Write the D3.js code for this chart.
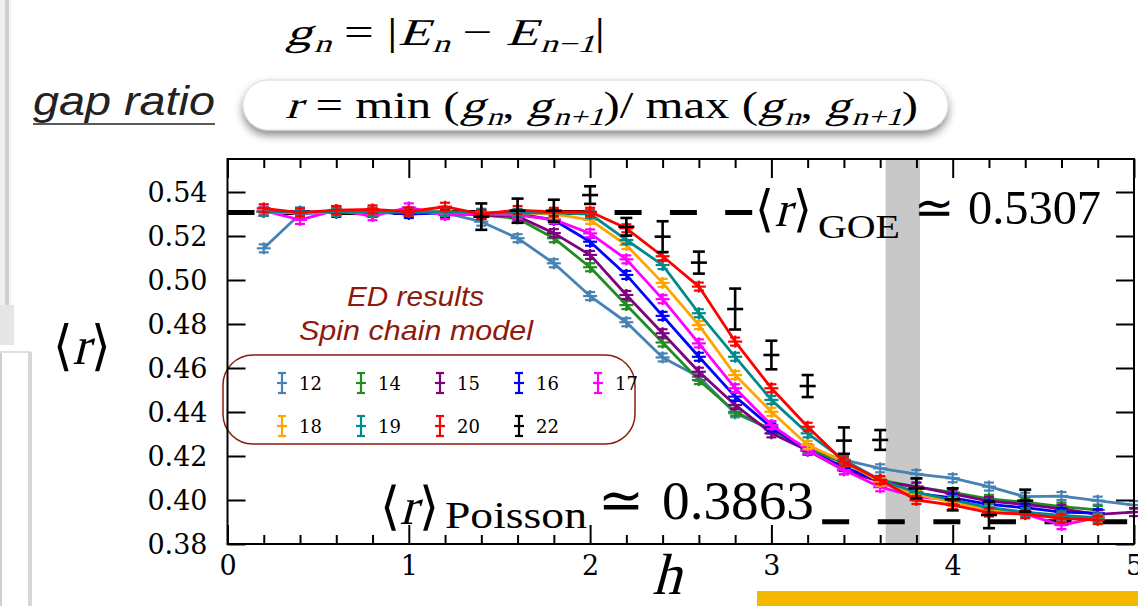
<!DOCTYPE html>
<meta charset='utf-8'>
<style>
  body { margin: 0; background: #fff; }
  svg { display: block; }
  .axis path { display: none; }
  .axis line { stroke: #000; stroke-width: 2px; }
  .axis text { font-family: 'DejaVu Serif', serif; font-size: 27px; fill: #000; }
  .serif { font-family: 'Liberation Serif', serif; fill: #000; white-space: pre; }
</style>
<svg width='1138' height='606'></svg>

<script src='https://cdn.jsdelivr.net/npm/d3@7/dist/d3.min.js'></script>

<script>
  // field values h
  var hValues = [0.2, 0.4, 0.6, 0.8, 1.0, 1.2, 1.4, 1.6, 1.8, 2.0, 2.2, 2.4, 2.6,
                 2.8, 3.0, 3.2, 3.4, 3.6, 3.8, 4.0, 4.2, 4.4, 4.6, 4.8, 5.0];

  // system sizes L and their colours
  var sizes = ['12', '14', '15', '16', '17', '18', '19', '20', '22'];
  var colors = ['#4682b4', '#228b22', '#800080', '#0000ff', '#ff00ff',
                '#ffa500', '#008b8b', '#ff0000', '#000000'];

  // <r> for each size (null = no point)
  var r12 = [0.5144, 0.5300, 0.5310, 0.5305, 0.5310, 0.5305, 0.5265, 0.5190, 0.5076, 0.4927, 0.4808, 0.4648, 0.4560,
             0.4394, 0.4320, 0.4235, 0.4182, 0.4144, 0.4118, 0.4099, 0.4061, 0.4015, 0.4018, 0.3997, 0.3977];
  var r14 = [0.5310, 0.5305, 0.5310, 0.5305, 0.5310, 0.5310, 0.5295, 0.5280, 0.5190, 0.5058, 0.4886, 0.4716, 0.4545,
             0.4401, 0.4320, 0.4230, 0.4170, 0.4090, 0.4060, 0.4035, 0.4005, 0.3990, 0.3970, 0.3955, null];
  var r15 = [0.5310, 0.5305, 0.5315, 0.5305, 0.5310, 0.5310, 0.5295, 0.5290, 0.5213, 0.5114, 0.4932, 0.4758, 0.4583,
             0.4432, 0.4303, 0.4225, 0.4135, 0.4083, 0.4061, 0.4028, 0.3995, 0.3980, 0.3960, 0.3935, 0.3945];
  var r16 = [0.5310, 0.5310, 0.5305, 0.5310, 0.5300, 0.5305, 0.5300, 0.5300, 0.5273, 0.5174, 0.5023, 0.4837, 0.4651,
             0.4470, 0.4330, 0.4225, 0.4150, 0.4085, 0.4030, 0.4010, 0.3980, 0.3965, 0.3945, 0.3940, null];
  var r17 = [0.5315, 0.5273, 0.5318, 0.5290, 0.5330, 0.5295, 0.5300, 0.5295, 0.5275, 0.5212, 0.5094, 0.4913, 0.4712,
             0.4508, 0.4341, 0.4227, 0.4136, 0.4058, 0.4015, 0.4000, 0.3965, 0.3936, 0.3886, 0.3920, null];
  var r18 = [0.5310, 0.5305, 0.5310, 0.5310, 0.5310, 0.5310, 0.5305, 0.5305, 0.5300, 0.5273, 0.5159, 0.4987, 0.4795,
             0.4568, 0.4401, 0.4250, 0.4174, 0.4083, 0.4025, 0.3990, 0.3955, 0.3940, 0.3920, 0.3915, null];
  var r19 = [0.5310, 0.5310, 0.5310, 0.5310, 0.5310, 0.5310, 0.5305, 0.5305, 0.5305, 0.5300, 0.5182, 0.5068, 0.4849,
             0.4651, 0.4455, 0.4303, 0.4182, 0.4091, 0.4035, 0.4000, 0.3965, 0.3945, 0.3930, 0.3920, null];
  var r20 = [0.5326, 0.5306, 0.5318, 0.5321, 0.5311, 0.5333, 0.5300, 0.5318, 0.5310, 0.5310, 0.5235, 0.5108, 0.4970,
             0.4720, 0.4508, 0.4333, 0.4174, 0.4091, 0.4000, 0.3977, 0.3943, 0.3936, 0.3917, 0.3909, null];
  var r22 = [null, null, null, null, null, null, 0.5288, 0.5315, 0.5315, 0.5386, 0.5242, 0.5197, 0.5079,
             0.4868, 0.4659, 0.4518, 0.4270, 0.4273, 0.4053, 0.4003, 0.3932, 0.3997, null, null, null];
  var err22 = [null, null, null, null, null, null, 0.0060, 0.0055, 0.0050, 0.0040, 0.0040, 0.0070, 0.0050,
               0.0093, 0.0065, 0.0050, 0.0060, 0.0045, 0.0045, 0.0050, 0.0060, 0.0050, null, null, null];

  var xTickValues = [0, 1, 2, 3, 4, 5];
  var yTickValues = [0.38, 0.40, 0.42, 0.44, 0.46, 0.48, 0.50, 0.52, 0.54];

  // reference levels, as drawn
  var goeLevel = 0.5307;
  var poissonLevel = 0.3901;
  var greyBand = [3.63, 3.82];

  var svg = d3.select('svg');
  var x = d3.scaleLinear().domain([0, 5]).range([227.5, 1134]);
  var y = d3.scaleLinear().domain([0.38, 0.555]).range([544, 159]);

  // lays out a little formula: pieces are [text, italic, subscript]; the whole is squeezed to width
  function mathText(x0, y0, fs, width, pieces) {
    var g = svg.append('g');
    var cx = 0;
    pieces.forEach(function (p) {
      var size = p[2] ? fs * 0.66 : fs;
      var t = g.append('text').attr('class', 'serif').attr('font-size', size).text(p[0]);
      var w = t.node().getComputedTextLength();
      var tr = 'translate(' + cx + ',' + (p[2] ? fs * 0.19 : 0) + ')';
      if (p[1]) tr += ' skewX(-15)';
      t.attr('transform', tr);
      cx += w + (p[1] && !p[2] ? fs * 0.04 : 0);
    });
    var k = width ? width / cx : 1;
    g.attr('transform', 'translate(' + x0 + ',' + y0 + ') scale(' + k + ',1)');
    return g;
  }

  var defs = svg.append('defs');
  var f = defs.append('filter').attr('id', 'shadow').attr('x', '-5%').attr('y', '-30%').attr('width', '110%').attr('height', '170%');
  f.append('feDropShadow').attr('dx', 0).attr('dy', 5).attr('stdDeviation', 4).attr('flood-color', '#000').attr('flood-opacity', 0.45);

  // slide remnants on the left and bottom
  svg.append('rect').attr('x', 0).attr('y', 0).attr('width', 11).attr('height', 305).attr('fill', '#f0f0f0');
  svg.append('rect').attr('x', 5).attr('y', 0).attr('width', 4).attr('height', 305).attr('fill', '#d0d0d0');
  svg.append('rect').attr('x', 0).attr('y', 305).attr('width', 14).attr('height', 40).attr('fill', '#dcdcdc').attr('opacity', 0.7);
  svg.append('rect').attr('x', 0).attr('y', 352).attr('width', 2).attr('height', 254).attr('fill', '#cfcfcf');
  svg.append('rect').attr('x', 0).attr('y', 351).attr('width', 31).attr('height', 2).attr('fill', '#e0e0e0');
  svg.append('rect').attr('x', 28).attr('y', 352).attr('width', 4).attr('height', 254).attr('fill', '#d6d6d6');
  svg.append('rect').attr('x', 757).attr('y', 591).attr('width', 381).attr('height', 15).attr('fill', '#f5b800');

  // formulas on top
  mathText(285, 45, 38, 320, [['g', 1, 0], ['n', 1, 1], [' = |', 0, 0], ['E', 1, 0], ['n', 1, 1], [' \u2212 ', 0, 0],
    ['E', 1, 0], ['n\u22121', 1, 1], ['|', 0, 0]]);

  svg.append('text').attr('x', 33).attr('y', 115)
    .attr('font-family', 'Liberation Sans, sans-serif').attr('font-style', 'italic')
    .attr('font-size', 40).attr('fill', '#222')
    .attr('textLength', 182).attr('lengthAdjust', 'spacingAndGlyphs').text('gap ratio');
  svg.append('line').attr('x1', 33).attr('x2', 215).attr('y1', 124).attr('y2', 124)
    .attr('stroke', '#222').attr('stroke-width', 1.6);

  svg.append('rect').attr('x', 243).attr('y', 80).attr('width', 705).attr('height', 50).attr('rx', 25)
    .attr('fill', '#fff').attr('stroke', '#d8d8d8').attr('filter', 'url(#shadow)');

  mathText(285, 118, 38, 633, [['r', 1, 0], [' = min (', 0, 0], ['g', 1, 0], ['n', 1, 1], [', ', 0, 0], ['g', 1, 0],
    ['n+1', 1, 1], [')/ max (', 0, 0], ['g', 1, 0], ['n', 1, 1], [', ', 0, 0], ['g', 1, 0], ['n+1', 1, 1], [')', 0, 0]]);

  // plot
  svg.append('rect').attr('x', x(greyBand[0])).attr('y', y(0.555))
    .attr('width', x(greyBand[1]) - x(greyBand[0])).attr('height', y(0.38) - y(0.555)).attr('fill', '#c8c8c8');

  svg.append('line').attr('x1', x(0)).attr('x2', x(2.91)).attr('y1', y(goeLevel)).attr('y2', y(goeLevel))
    .attr('stroke', '#000').attr('stroke-width', 5).attr('stroke-dasharray', '27,28.3');
  svg.append('line').attr('x1', x(3.28)).attr('x2', x(5)).attr('y1', y(poissonLevel)).attr('y2', y(poissonLevel))
    .attr('stroke', '#000').attr('stroke-width', 5).attr('stroke-dasharray', '27,28.6');

  // legend box and titles
  svg.append('rect').attr('x', 223).attr('y', 355).attr('width', 412).attr('height', 89).attr('rx', 30)
    .attr('fill', 'none').attr('stroke', '#8e1a0e').attr('stroke-width', 1.5);
  svg.append('text').attr('x', 347).attr('y', 306).attr('font-family', 'Liberation Sans, sans-serif')
    .attr('font-style', 'italic').attr('font-size', 28).attr('fill', '#8e1a0e')
    .attr('textLength', 137).attr('lengthAdjust', 'spacingAndGlyphs').text('ED results');
  svg.append('text').attr('x', 299).attr('y', 340).attr('font-family', 'Liberation Sans, sans-serif')
    .attr('font-style', 'italic').attr('font-size', 28).attr('fill', '#8e1a0e')
    .attr('textLength', 234).attr('lengthAdjust', 'spacingAndGlyphs').text('Spin chain model');

  var series = [r12, r14, r15, r16, r17, r18, r19, r20].map(function (vals, i) {
    return { size: sizes[i], color: colors[i],
      pts: hValues.map(function (h, j) { return { h: h, r: vals[j] }; }).filter(function (d) { return d.r !== null; }) };
  });

  var line = d3.line().x(function (d) { return x(d.h); }).y(function (d) { return y(d.r); });

  series.forEach(function (s) {
    var g = svg.append('g');
    g.append('path').datum(s.pts).attr('d', line).attr('fill', 'none')
      .attr('stroke', s.color).attr('stroke-width', 2.8).attr('stroke-linejoin', 'round');
    var m = g.selectAll('g.m').data(s.pts).enter().append('g')
      .attr('transform', function (d) { return 'translate(' + x(d.h) + ',' + y(d.r) + ')'; })
      .attr('stroke', s.color).attr('stroke-width', 2.2);
    m.append('line').attr('y1', -6).attr('y2', 6);
    m.append('line').attr('x1', -5).attr('x2', 5).attr('y1', -4).attr('y2', -4);
    m.append('line').attr('x1', -5).attr('x2', 5).attr('y1', 4).attr('y2', 4);
    m.append('line').attr('x1', -7).attr('x2', 7);
  });

  var blackPts = hValues.map(function (h, j) { return { h: h, r: r22[j], e: err22[j] }; })
    .filter(function (d) { return d.r !== null; });
  var bm = svg.append('g').attr('stroke', '#000').attr('stroke-width', 2.6)
    .selectAll('g').data(blackPts).enter().append('g');
  bm.append('line').attr('x1', function (d) { return x(d.h); }).attr('x2', function (d) { return x(d.h); })
    .attr('y1', function (d) { return y(d.r + d.e); }).attr('y2', function (d) { return y(d.r - d.e); });
  [1, -1].forEach(function (k) {
    bm.append('line').attr('x1', function (d) { return x(d.h) - 6; }).attr('x2', function (d) { return x(d.h) + 6; })
      .attr('y1', function (d) { return y(d.r + k * d.e); }).attr('y2', function (d) { return y(d.r + k * d.e); });
  });
  bm.append('line').attr('x1', function (d) { return x(d.h) - 8; }).attr('x2', function (d) { return x(d.h) + 8; })
    .attr('y1', function (d) { return y(d.r); }).attr('y2', function (d) { return y(d.r); });

  // legend entries
  var leg = svg.append('g').selectAll('g').data(sizes).enter().append('g')
    .attr('transform', function (d, i) { return 'translate(' + (282 + (i % 5) * 79) + ',' + (383 + Math.floor(i / 5) * 43) + ')'; });
  leg.append('g').attr('stroke', function (d, i) { return colors[i]; }).attr('stroke-width', 2.2).each(function () {
    var g = d3.select(this);
    g.append('line').attr('y1', -10).attr('y2', 10);
    g.append('line').attr('x1', -4).attr('x2', 4).attr('y1', -10).attr('y2', -10);
    g.append('line').attr('x1', -4).attr('x2', 4).attr('y1', 10).attr('y2', 10);
    g.append('line').attr('x1', -5).attr('x2', 5);
  });
  leg.append('text').attr('x', 17).attr('y', 7).attr('font-family', 'DejaVu Serif, serif')
    .attr('font-size', 18).text(function (d) { return d; });

  // axes
  var minorX = d3.range(0, 5.01, 0.2).map(function (v) { return +v.toFixed(1); })
    .filter(function (v) { return xTickValues.indexOf(v) < 0; });

  var gx = svg.append('g').attr('class', 'axis').attr('transform', 'translate(0,544)')
    .call(d3.axisBottom(x).tickValues(xTickValues).tickSizeInner(-19).tickSizeOuter(0).tickFormat(d3.format('d')));
  gx.selectAll('text').attr('y', 31).attr('dy', 0);
  svg.append('g').attr('class', 'axis').attr('transform', 'translate(0,544)')
    .call(d3.axisBottom(x).tickValues(minorX).tickSizeInner(-9).tickSizeOuter(0).tickFormat(''));
  svg.append('g').attr('class', 'axis').attr('transform', 'translate(0,159)')
    .call(d3.axisTop(x).tickValues(xTickValues).tickSizeInner(-19).tickSizeOuter(0).tickFormat(''));
  svg.append('g').attr('class', 'axis').attr('transform', 'translate(0,159)')
    .call(d3.axisTop(x).tickValues(minorX).tickSizeInner(-9).tickSizeOuter(0).tickFormat(''));

  var gy = svg.append('g').attr('class', 'axis').attr('transform', 'translate(227.5,0)')
    .call(d3.axisLeft(y).tickValues(yTickValues).tickSizeInner(-18).tickSizeOuter(0).tickPadding(20).tickFormat(d3.format('.2f')));
  gy.selectAll('text').attr('dy', '0.35em');
  svg.append('g').attr('class', 'axis').attr('transform', 'translate(1134,0)')
    .call(d3.axisRight(y).tickValues(yTickValues).tickSizeInner(-18).tickSizeOuter(0).tickFormat(''));

  svg.append('rect').attr('x', 227.5).attr('y', 159).attr('width', 1134 - 227.5).attr('height', 544 - 159)
    .attr('fill', 'none').attr('stroke', '#000').attr('stroke-width', 2);

  // axis titles
  mathText(53, 364, 54, 58, [['\u27e8', 0, 0], ['r', 1, 0], ['\u27e9', 0, 0]]);
  mathText(652, 594, 58, 0, [['h', 1, 0]]);

  // level annotations
  mathText(755, 226, 50, 57, [['\u27e8', 0, 0], ['r', 1, 0], ['\u27e9', 0, 0]]);
  svg.append('text').attr('class', 'serif').attr('x', 818).attr('y', 238).attr('font-size', 34)
    .attr('textLength', 82).attr('lengthAdjust', 'spacingAndGlyphs').text('GOE');
  svg.append('text').attr('class', 'serif').attr('x', 914).attr('y', 224).attr('font-size', 48).text('\u2243');
  svg.append('text').attr('class', 'serif').attr('x', 968).attr('y', 224).attr('font-size', 48)
    .attr('textLength', 133).attr('lengthAdjust', 'spacingAndGlyphs').text(d3.format('.4f')(goeLevel));

  mathText(380, 524, 52, 59, [['\u27e8', 0, 0], ['r', 1, 0], ['\u27e9', 0, 0]]);
  svg.append('text').attr('class', 'serif').attr('x', 445).attr('y', 528).attr('font-size', 38)
    .attr('textLength', 142).attr('lengthAdjust', 'spacingAndGlyphs').text('Poisson');
  svg.append('text').attr('class', 'serif').attr('x', 598).attr('y', 519).attr('font-size', 55).text('\u2243');
  svg.append('text').attr('class', 'serif').attr('x', 662).attr('y', 519).attr('font-size', 55)
    .attr('textLength', 152).attr('lengthAdjust', 'spacingAndGlyphs').text('0.3863');
</script>
